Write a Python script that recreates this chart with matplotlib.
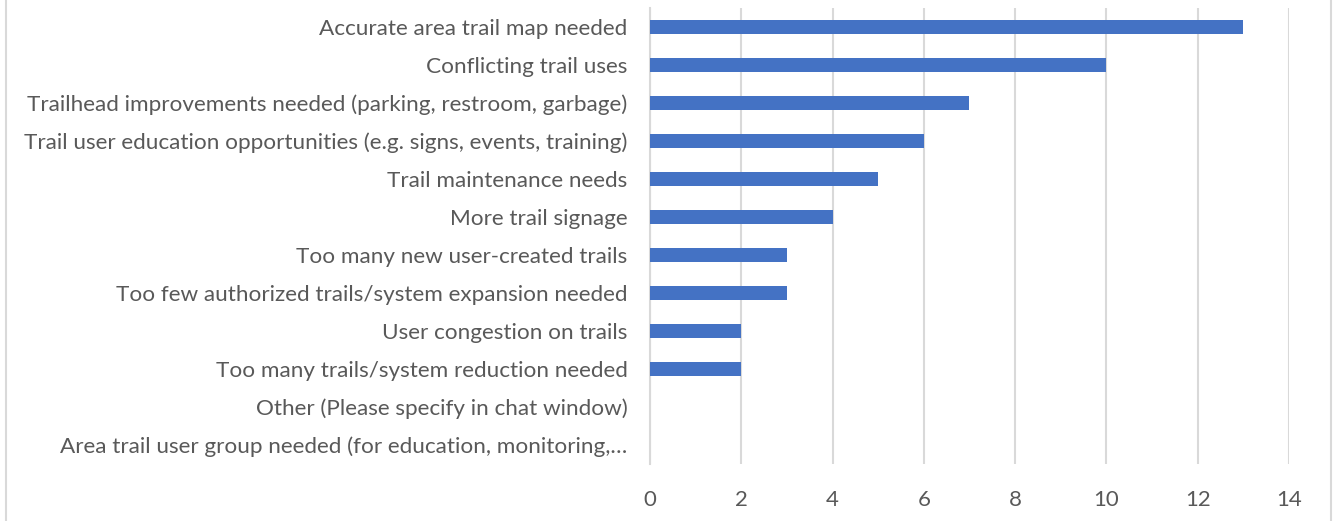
import matplotlib
matplotlib.use("Agg")
from matplotlib import pyplot as plt
from matplotlib.lines import Line2D

categories = [
    "Accurate area trail map needed",
    "Conflicting trail uses",
    "Trailhead improvements needed (parking, restroom, garbage)",
    "Trail user education opportunities (e.g. signs, events, training)",
    "Trail maintenance needs",
    "More trail signage",
    "Too many new user-created trails",
    "Too few authorized trails/system expansion needed",
    "User congestion on trails",
    "Too many trails/system reduction needed",
    "Other (Please specify in chat window)",
    "Area trail user group needed (for education, monitoring,\u2026",
]
counts = [13, 10, 7, 6, 5, 4, 3, 3, 2, 2, 0, 0]
x_ticks = [0, 2, 4, 6, 8, 10, 12, 14]


def bar_chart():
    matplotlib.rc("font", family=["Lato", "DejaVu Sans"])
    fig = plt.figure(figsize=(13.36, 5.21), dpi=100)
    ax = fig.add_axes([0.4865, 0.1094, 0.9648 - 0.4865, 0.9846 - 0.1094])

    ys = list(range(len(categories)))
    ax.barh(ys, counts, height=0.37, color="#4472C4", zorder=3)

    ax.set_ylim(len(categories) - 0.5, -0.5)
    ax.set_xlim(0, 14)
    ax.set_yticks(ys)
    ax.set_yticklabels(categories)
    ax.set_xticks(x_ticks)

    # gridlines like excel
    ax.grid(axis="x", color="#D9D9D9", linewidth=1.5, zorder=0)
    for s in ["top", "right", "bottom"]:
        ax.spines[s].set_visible(False)
    ax.spines["left"].set_color("#D9D9D9")
    ax.spines["left"].set_linewidth(1.5)

    ax.tick_params(axis="y", length=0, pad=16, labelsize=16.2, labelcolor="#595959")
    ax.tick_params(axis="x", length=0, pad=19, labelsize=16, labelcolor="#595959")

    # chart border (left/right edges visible)
    fig.add_artist(Line2D([6 / 1336, 6 / 1336], [0, 1], color="#D9D9D9", linewidth=1.5))
    fig.add_artist(Line2D([1331 / 1336, 1331 / 1336], [0, 1], color="#D9D9D9", linewidth=1.5))

    fig.savefig("out.png", dpi=100)


if __name__ == '__main__':
    bar_chart()
